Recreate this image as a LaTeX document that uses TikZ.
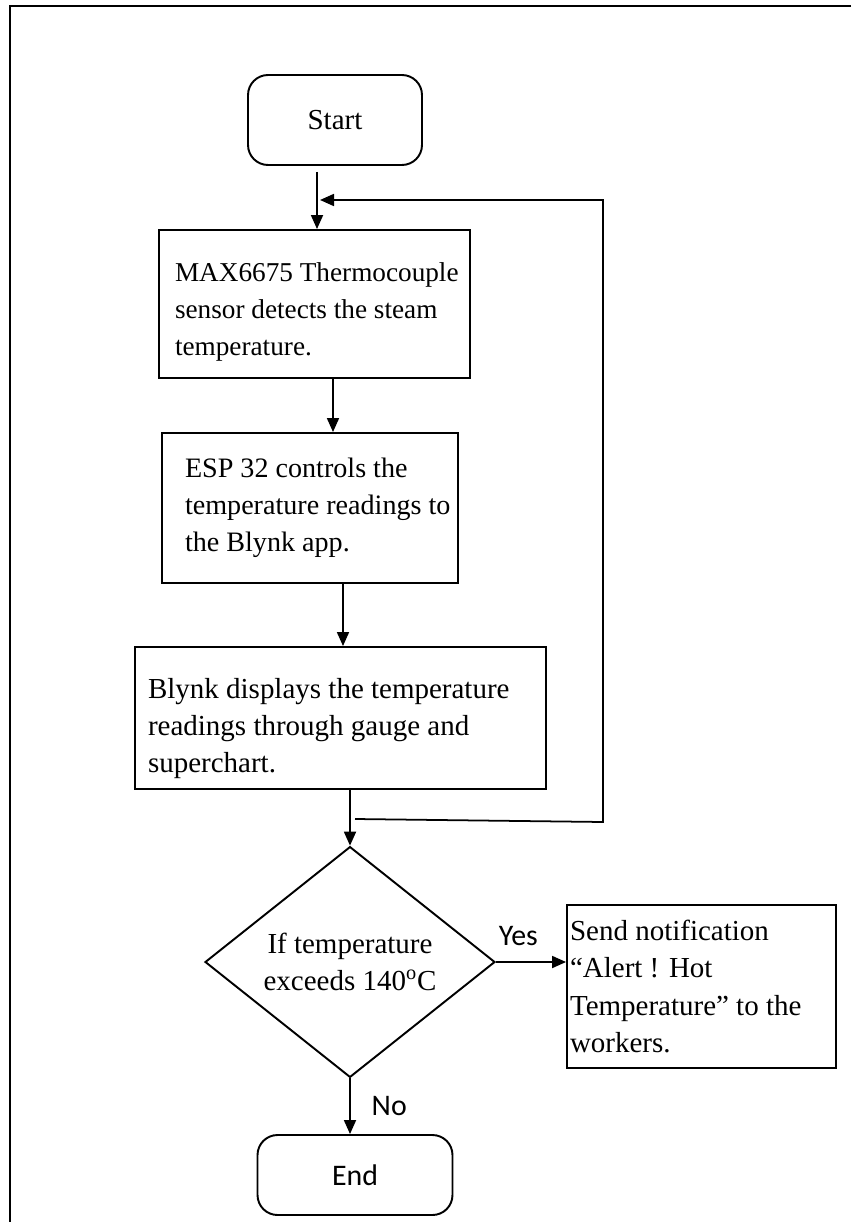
\documentclass[tikz,border=0pt]{standalone}
\usepackage{fontspec}
\setmainfont{Liberation Serif}
\newfontfamily\calibfont{Carlito}
\usetikzlibrary{arrows.meta,shapes.geometric}

\tikzset{
    procbox/.style={draw, line width=1.1pt, align=flush left, font=\fontsize{16.5}{21.2}\selectfont},
    termbox/.style={draw, line width=1.1pt, rounded corners=0.4cm},
    decbox/.style={draw, diamond, line width=1.1pt, align=center, inner sep=0pt,
        font=\fontsize{16.5}{21.2}\selectfont},
    flow/.style={line width=1pt, -{Triangle[length=0.28cm,width=0.24cm]}},
    flowlabel/.style={font=\calibfont\fontsize{17}{20}\selectfont}
}

\begin{document}
\begin{tikzpicture}[x=0.02cm, y=-0.02cm]
    % Fix the page size
    \useasboundingbox (0,0) rectangle (851,1222);

    % Draw the outer frame
    \draw[line width=1.3pt] (851,6) -- (10,6) -- (10,1222);

    % Start and end blocks
    \node[termbox, minimum width=3.48cm, minimum height=1.8cm,
        font=\fontsize{16.5}{20}\selectfont] (start) at (335,120) {Start};
    \node[termbox, minimum width=3.9cm, minimum height=1.6cm, flowlabel] (finish) at (355,1175) {End};

    % Process blocks
    \node[procbox, text width=5.58cm, inner xsep=0.32cm, minimum height=2.96cm,
        font=\fontsize{15.5}{21.2}\selectfont] (sense) at (314.5,304)
        {\rule{0pt}{0.7cm}\mbox{MAX6675 Thermocouple}\\ \mbox{sensor detects the steam}\\ temperature.};
    \node[procbox, text width=5.0cm, inner xsep=0.46cm, minimum height=3.0cm,
        font=\fontsize{16}{21.2}\selectfont] (esp) at (310,508)
        {\mbox{ESP 32 controls the}\\ \mbox{temperature readings to}\\ the Blynk app.};
    \node[procbox, text width=7.7cm, inner xsep=0.26cm, minimum height=2.84cm] (blynk) at (340.5,718)
        {\rule{0pt}{0.82cm}\mbox{Blynk displays the temperature}\\ \mbox{readings through gauge and}\\ superchart.};

    % Decision and notification
    \node[decbox, minimum width=5.8cm, minimum height=4.54cm] (dec) at (350,962)
        {If temperature\\ exceeds 140\textsuperscript{o}C};
    \node[procbox, text width=5.26cm, inner xsep=0.06cm, minimum height=3.26cm] (send) at (701.5,986.5)
        {\mbox{Send notification}\\ \mbox{“Alert ! Hot}\\ \mbox{Temperature” to the}\\ workers.};

    % Arrows down the chart
    \coordinate (startgap) at (317,172);
    \draw[flow] (startgap) -- (startgap |- sense.north);
    \draw[flow] ([xshift=0.37cm]sense.south) -- ([xshift=0.37cm]sense.south |- esp.north);
    \draw[flow] ([xshift=0.66cm]esp.south) -- ([xshift=0.66cm]esp.south |- blynk.north);
    \draw[flow] (blynk.south -| dec.north) -- (dec.north);

    % Loop back to the sensor
    \coordinate (loopin) at (355,819);
    \coordinate (loopcorner) at (603,822);
    \coordinate (loopend) at (320,200);
    \draw[flow] (loopin) -- (loopcorner) -- (loopcorner |- loopend) -- (loopend);

    % Yes and No branches
    \draw[flow] (dec.east) -- (dec.east -| send.west) node[flowlabel, pos=0.32, above=0.2cm] {Yes};
    \draw[flow] (dec.south) -- (dec.south |- finish.north) node[flowlabel, midway, right=0.3cm] {No};
\end{tikzpicture}
\end{document}
